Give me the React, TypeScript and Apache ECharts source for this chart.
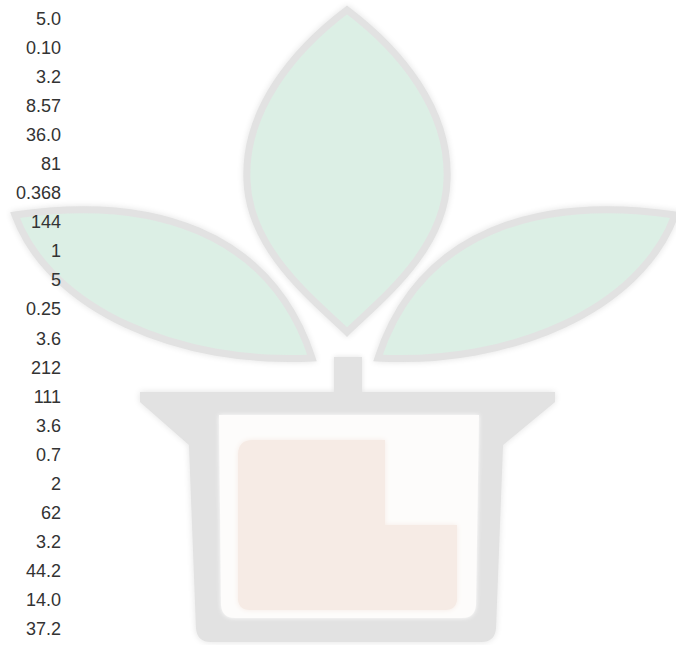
import React, { useEffect, useRef } from "react";
import * as echarts from "echarts";

const categories: string[] = [
  "5.0", "0.10", "3.2", "8.57", "36.0", "81", "0.368", "144", "1", "5", "0.25",
  "3.6", "212", "111", "3.6", "0.7", "2", "62", "3.2", "44.2", "14.0", "37.2",
];

const LEAF_LEFT = "M 15 215 C 150 195 270 230 312 358 C 180 365 50 310 15 215 Z";
const LEAF_RIGHT = "M 675 215 C 540 195 420 230 378 358 C 510 365 640 310 675 215 Z";
const LEAF_CENTER =
  "M 347 10 C 400 50 450 110 447 180 C 445 250 380 300 347 332 C 314 300 249 250 247 180 C 244 110 294 50 347 10 Z";
const POT_OUTER =
  "M 140 392 L 555 392 L 555 402 L 503 445 L 496 628 Q 495 642 481 642 L 211 642 Q 197 642 196 628 L 189 445 L 140 402 Z";
const POT_INNER =
  "M 219 415 L 479 415 L 476 605 Q 475 618 462 618 L 235 618 Q 222 618 221 605 Z";
const POT_FILL =
  "M 238 455 Q 238 440 253 440 L 385 440 L 385 525 L 457 525 L 457 598 Q 457 610 445 610 L 250 610 Q 238 610 238 598 Z";

let registered = false;
function registerShapes() {
  if (registered) return;
  registered = true;
  echarts.graphic.registerShape("leafL", echarts.graphic.extendPath(LEAF_LEFT, {}));
  echarts.graphic.registerShape("leafR", echarts.graphic.extendPath(LEAF_RIGHT, {}));
  echarts.graphic.registerShape("leafC", echarts.graphic.extendPath(LEAF_CENTER, {}));
  echarts.graphic.registerShape("potOuter", echarts.graphic.extendPath(POT_OUTER, {}));
  echarts.graphic.registerShape("potInner", echarts.graphic.extendPath(POT_INNER, {}));
  echarts.graphic.registerShape("potFill", echarts.graphic.extendPath(POT_FILL, {}));
}

export default function App() {
  const ref = useRef<HTMLDivElement>(null);
  useEffect(() => {
    if (!ref.current) return;
    registerShapes();
    const chart = echarts.init(ref.current, undefined, { renderer: "svg" });
    const gray = "#e2e2e2";
    const mint = "#dcefe5";
    const pink = "#f6ebe5";
    const leafStyle = { fill: mint, stroke: gray, lineWidth: 7, shadowBlur: 6, shadowColor: gray };
    chart.setOption({
      animation: false,
      backgroundColor: "#ffffff",
      grid: { left: 69, right: 10, top: 4, bottom: 1, containLabel: false },
      xAxis: { type: "value", show: false },
      yAxis: {
        type: "category",
        inverse: true,
        data: categories,
        axisLine: { show: false },
        axisTick: { show: false },
        splitLine: { show: false },
        axisLabel: {
          margin: 8,
          color: "#333333",
          fontSize: 18,
          fontFamily: "Liberation Sans, Arial, sans-serif",
          interval: 0,
        },
      },
      graphic: [
        { type: "leafL", x: 0, y: 0, z: -10, silent: true, style: leafStyle },
        { type: "leafR", x: 0, y: 0, z: -10, silent: true, style: leafStyle },
        { type: "leafC", x: 0, y: 0, z: -10, silent: true, style: leafStyle },
        {
          type: "rect", z: -10, silent: true,
          shape: { x: 334, y: 357, width: 28, height: 40 },
          style: { fill: gray, shadowBlur: 5, shadowColor: gray },
        },
        { type: "potOuter", x: 0, y: 0, z: -10, silent: true, style: { fill: gray, shadowBlur: 6, shadowColor: gray } },
        { type: "potInner", x: 0, y: 0, z: -9, silent: true, style: { fill: "#fdfcfb", shadowBlur: 4, shadowColor: "#ffffff" } },
        { type: "potFill", x: 0, y: 0, z: -8, silent: true, style: { fill: pink, shadowBlur: 5, shadowColor: pink } },
      ],
      series: [],
    });
    return () => chart.dispose();
  }, []);
  return (
    <div
      ref={ref}
      style={{ position: "fixed", left: 0, top: 0, width: 676, height: 645 }}
    />
  );
}
